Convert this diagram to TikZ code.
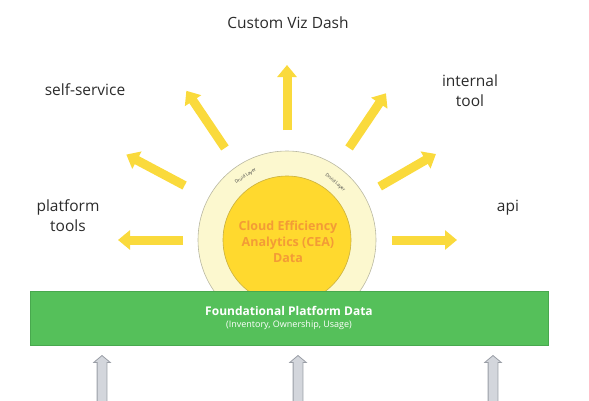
\documentclass[tikz,border=0pt]{standalone}
\usepackage{fontspec}
\setmainfont{Open Sans}
\usetikzlibrary{arrows.meta,shapes.arrows,positioning}
\definecolor{sunyellow}{HTML}{FADA3C}
\definecolor{corefill}{HTML}{FFD92E}
\definecolor{coreline}{HTML}{C9B03E}
\definecolor{ringfill}{HTML}{FCF8CF}
\definecolor{ringline}{HTML}{B9B8A2}
\definecolor{ceaorange}{HTML}{F39B36}
\definecolor{basegreen}{HTML}{55C05A}
\definecolor{baseline}{HTML}{48A84E}
\definecolor{feedfill}{HTML}{D3D6DC}
\definecolor{feedline}{HTML}{9A9EA6}
\definecolor{labeltext}{HTML}{2B2B2B}
\tikzset{
  ray/.style={sunyellow, line width=9pt, -{Triangle[width=19pt,length=12pt]}},
  feed/.style={single arrow, draw=feedline, fill=feedfill, line width=0.8pt,
    rotate=90, inner sep=0pt, inner ysep=4.5pt, single arrow head extend=3.5pt,
    single arrow tip angle=100, minimum height=50pt, anchor=tip},
  consumer/.style={labeltext, font=\fontsize{15.5}{20}\selectfont, align=center},
  druid/.style={font=\fontsize{4.5}{5}\selectfont, text=black!75},
}
\begin{document}
\begin{tikzpicture}[x=1pt,y=1pt]
	  \useasboundingbox (0,0) rectangle (589,400);
	  \coordinate (sun) at (287,160);
	  \node (ring) [circle, draw=ringline, fill=ringfill, line width=0.6pt, minimum size=178pt] at (sun) {};
	  \node (core) [circle, draw=coreline, fill=corefill, line width=0.6pt, minimum size=128pt] at (sun) {};
	  \node (cea) [ceaorange, font=\fontsize{12.5}{16}\selectfont\bfseries, align=center] at (288,158) {Cloud Efficiency\\Analytics (CEA)\\Data};
	  \node [druid, rotate=33] at ([shift={(123:76)}]sun) {Druid Layer};
	  \node [druid, rotate=-40] at ([shift={(50:75)}]sun) {Druid Layer};
	  \node (base) [draw=baseline, fill=basegreen, line width=0.6pt, minimum width=518pt, minimum height=54pt] at (289,82) {};
	  \node [white, font=\fontsize{12}{14}\selectfont\bfseries] at (289,89) {Foundational Platform Data};
	  \node [white, font=\fontsize{9}{10}\selectfont] at (289,75) {(Inventory, Ownership, Usage)};
	  \node (dash) [consumer] at (288,377) {Custom Viz Dash};
	  \node (self) [consumer] at (85,310) {self-service};
	  \node (internal) [consumer] at (470,309) {internal\\tool};
	  \node (platform) [consumer] at (68,184) {platform\\tools};
	  \node (api) [consumer] at (508,192) {api};
	  \draw[ray] ([shift={(0:105)}]sun) -- ([shift={(0:170)}]sun);
	  \draw[ray] ([shift={(30:107)}]sun) -- ([shift={(30:172)}]sun);
	  \draw[ray] ([shift={(56:111)}]sun) -- ([shift={(56:177)}]sun);
	  \draw[ray] ([shift={(90:110)}]sun) -- ([shift={(90:175)}]sun);
	  \draw[ray] ([shift={(124:111)}]sun) -- ([shift={(124:180)}]sun);
	  \draw[ray] ([shift={(152:116)}]sun) -- ([shift={(152:182)}]sun);
	  \draw[ray] ([shift={(180:104)}]sun) -- ([shift={(180:169)}]sun);
	  \node (feed1) [feed] at (102,45) {};
	  \node (feed2) [feed] at (298,45) {};
	  \node (feed3) [feed] at (493,45) {};
	\end{tikzpicture}
\end{document}
